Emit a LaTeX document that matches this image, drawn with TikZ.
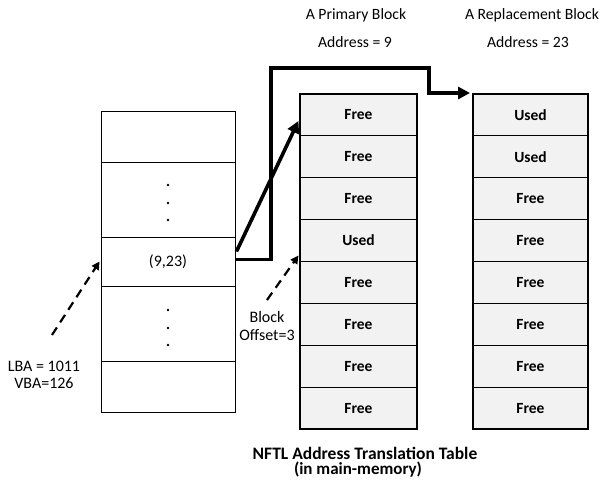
\documentclass[tikz,border=0pt]{standalone}
\usepackage{fontspec}
\setmainfont{Carlito}
\usetikzlibrary{arrows.meta,calc}
\begin{document}
\begin{tikzpicture}[x=1pt,y=-1pt,
  lbl/.style={font=\fontsize{15.7}{18}\selectfont, inner sep=0pt},
  lrow/.style={draw, line width=0.9pt, minimum width=134pt, inner sep=0pt, font=\fontsize{16}{18}\selectfont},
  cell/.style={draw, line width=1.1pt, fill=black!5, minimum height=41.875pt, inner sep=0pt, font=\bfseries\fontsize{15.5}{18}\selectfont},
  mcell/.style={cell, minimum width=117pt},
  rcell/.style={cell, minimum width=115pt},
  thick arrow/.style={line width=3.6pt, -{Triangle[length=12pt,width=12pt]}},
  dash arrow/.style={line width=2.2pt, dash pattern=on 9pt off 6pt, -{Triangle[length=8pt,width=8pt]}},
  dotmark/.style={fill=black, draw=none}
]
\useasboundingbox (0,0) rectangle (603,481);
% left table
\node[lrow, minimum height=51pt] (L1) at (168,136.5) {};
\node[lrow, minimum height=75pt] (L2) at (168,199.5) {};
\node[lrow, minimum height=49pt] (L3) at (168,261.5) {(9,23)};
\node[lrow, minimum height=75pt] (L4) at (168,323.5) {};
\node[lrow, minimum height=51pt] (L5) at (168,386.5) {};
\foreach \yy in {185,203,220,310,328,345} \fill[dotmark] (168,\yy) circle (1.3pt);
% primary block column
\foreach \t [count=\i] in {Free,Free,Free,Used,Free,Free,Free,Free}
  \node[mcell] (m\i) at (358.5,{94+41.875*(\i-0.5)}) {\t};
% replacement block column
\foreach \t [count=\i] in {Used,Used,Free,Free,Free,Free,Free,Free}
  \node[rcell] (r\i) at (530.5,{94+41.875*(\i-0.5)}) {\t};
% labels
\node[lbl] (pA) at (356,15) {A Primary Block};
\node[lbl] (pB) at (355,42) {Address = 9};
\node[lbl] (rA) at (532,15) {A Replacement Block};
\node[lbl] (rB) at (528,42) {Address = 23};
\node[lbl, align=center, font=\fontsize{16}{18}\selectfont] (off) at (267,326) {Block\\Offset=3};
\node[lbl, align=center, font=\fontsize{16}{16.5}\selectfont] (lba) at (44,375) {LBA = 1011\\VBA=126};
\node[lbl, font=\bfseries\fontsize{17.5}{19}\selectfont] (t1) at (365,453) {NFTL Address Translation Table};
\node[lbl, font=\bfseries\fontsize{17}{19}\selectfont] (t2) at (358,470) {(in main-memory)};
% connectors
\coordinate (c1) at (271,68);
\coordinate (c2) at (429,93);
\coordinate (tip) at (470,93);
\coordinate (d1) at (52,335);
\coordinate (d2) at (267,300);
\draw[thick arrow] ($(L3.east)+(1,-10)$) -- ($(m1.west)+(-1,6)$);
\draw[line width=3.6pt, line join=miter] ($(L3.east)+(0,-2)$) -| (c1) -| (c2);
\draw[thick arrow] ($(c2)+(-1.8,0)$) -- (tip);
\draw[dash arrow] (d1) -- ($(L3.west)+(-1,0)$);
\draw[dash arrow] (d2) -- ($(m4.west)+(-1,15)$);
\end{tikzpicture}
\end{document}
